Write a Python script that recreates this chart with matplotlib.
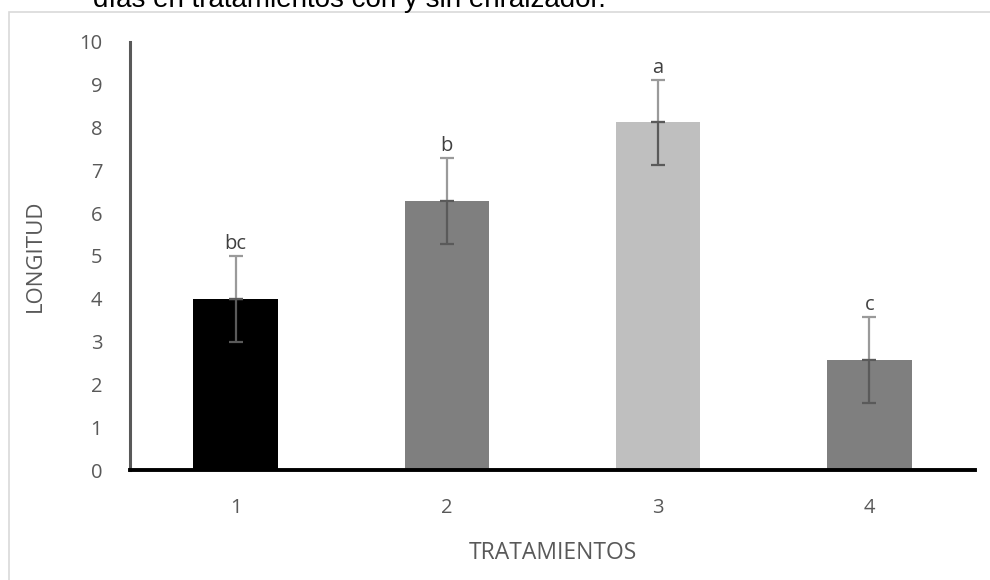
import matplotlib.pyplot as plt
from matplotlib.patches import Rectangle

# longitud media por tratamiento, con su desviación y letra de significancia
tratamientos = ["1", "2", "3", "4"]
longitud = [4.0, 6.28, 8.12, 2.57]
error = [1.0, 1.0, 1.0, 1.0]
letras = ["bc", "b", "a", "c"]
colores = ["#000000", "#7f7f7f", "#bfbfbf", "#7f7f7f"]

plt.rcParams['font.family'] = ['Open Sans', 'DejaVu Sans']

fig = plt.figure(figsize=(9.9, 5.8), dpi=100)
ax = fig.add_axes([130 / 990, 1 - 470 / 580, 845 / 990, 428 / 580])

x = list(range(1, len(tratamientos) + 1))
ax.bar(x, longitud, width=0.4, color=colores, zorder=2)

# barras de error: mitad superior clara, mitad inferior oscura
for xi, yi, ei in zip(x, longitud, error):
    ax.errorbar([xi], [yi], yerr=[[0], [ei]], fmt='none', ecolor='#9a9a9a',
                elinewidth=1.6, capsize=5, capthick=1.6, zorder=3)
    ax.errorbar([xi], [yi], yerr=[[ei], [0]], fmt='none', ecolor='#5a5a5a',
                elinewidth=1.6, capsize=5, capthick=1.6, zorder=3)

for xi, yi, ei, t in zip(x, longitud, error, letras):
    ax.text(xi, yi + ei + 0.05, t, ha='center', va='bottom',
            fontsize=14.5, color='#404040', zorder=4)

ax.set_xlim(0.5, 4.5)
ax.set_ylim(0, 10)
ax.set_yticks(range(0, 11))
ax.set_xticks(x)
ax.set_xticklabels(tratamientos)
ax.tick_params(length=0, labelsize=14.5, labelcolor='#595959')
ax.tick_params(axis='x', pad=20)
ax.tick_params(axis='y', pad=20)

for s in ['top', 'right']:
    ax.spines[s].set_visible(False)
ax.spines['left'].set_color('#595959')
ax.spines['left'].set_linewidth(2.2)
ax.spines['bottom'].set_color('#000000')
ax.spines['bottom'].set_linewidth(2.8)

ax.set_ylabel("LONGITUD", fontsize=16, color='#595959', labelpad=24)
ax.set_xlabel("TRATAMIENTOS", fontsize=16.5, color='#595959', labelpad=17)

# marco del área del gráfico
fig.patches.append(Rectangle((9 / 990, -0.1), 1.1, 1 - 12 / 580 + 0.1,
                             transform=fig.transFigure, fill=False,
                             edgecolor='#d9d9d9', linewidth=1.2))

fig.text(93 / 990, 1 - 7 / 580, "días en tratamientos con y sin enraizador.",
         fontsize=20, family='Liberation Sans', color='black', va='baseline')

fig.savefig("out.png", dpi=100, facecolor='white')
